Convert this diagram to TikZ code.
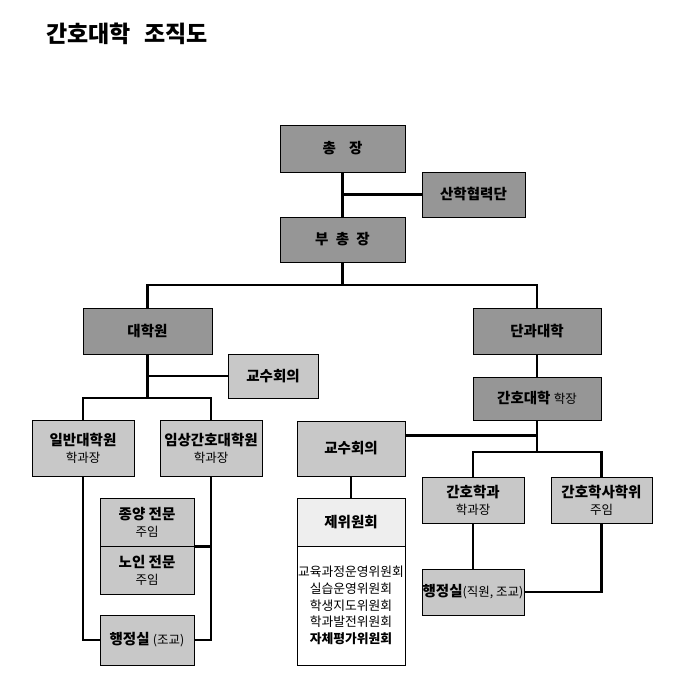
\documentclass[tikz,border=0pt]{standalone}
\usepackage{fontspec}
\setmainfont{Noto Sans CJK KR}
\usepackage{tikz}
\usetikzlibrary{calc,positioning}
\definecolor{darkbox}{HTML}{969696}
\definecolor{lightbox}{HTML}{C8C8C8}
\definecolor{headbox}{HTML}{EEEEEE}
\newcommand{\subt}[1]{{\fontsize{12.5}{15}\selectfont\mdseries #1}}

\begin{document}
\begin{tikzpicture}[x=1pt, y=-1pt,
    box/.style={draw, line width=0.8pt, inner sep=0pt, align=center,
        font=\fontsize{14.5}{17}\selectfont\bfseries},
    dark/.style={box, fill=darkbox},
    light/.style={box, fill=lightbox},
    link/.style={line width=2.4pt}]
    \useasboundingbox (0,0) rectangle (688,688);
    \node (title) at (127,34) {\fontsize{23}{26}\selectfont\bfseries 간호대학\hspace{0.6em}조직도};
    % top
    \node[dark, minimum width=125, minimum height=47] (chancellor) at (342.5,148.5) {총\hspace{0.9em}장};
    \node[dark, minimum width=103, minimum height=45] (sanhak) at (473.5,194.5) {산학협력단};
    \node[dark, minimum width=125, minimum height=45] (vice) at (342.5,239.5) {부\hspace{0.5em}총\hspace{0.5em}장};
    % graduate school
    \node[dark, minimum width=129, minimum height=46] (grad) at (147.5,331) {대학원};
    \node[light, minimum width=90, minimum height=44] (gradcouncil) at (273,376) {교수회의};
    \node[light, minimum width=102, minimum height=56] (general) at (83,448) {일반대학원\\\subt{학과장}};
    \node[light, minimum width=102, minimum height=56] (clinical) at (211,448) {임상간호대학원\\\subt{학과장}};
    \node[light, minimum width=94, minimum height=48] (oncology) at (147,522) {종양 전문\\\subt{주임}};
    \node[light, minimum width=94, minimum height=48] (geriatric) at (147,570) {노인 전문\\\subt{주임}};
    \node[light, minimum width=94, minimum height=50] (gradoffice) at (147,640) {행정실 \subt{(조교)}};
    % council and committees
    \node[light, minimum width=108, minimum height=55] (council) at (351,448.5) {교수회의};
    \node[box, fill=headbox, minimum width=108, minimum height=48] (committee) at (351,522) {제위원회};
    \node[draw, line width=0.8pt, minimum width=108, minimum height=119, inner sep=0pt,
        align=center, font=\fontsize{12.8}{16.7}\selectfont] (members) at (351,605.5)
        {교육과정운영위원회\\실습운영위원회\\학생지도위원회\\학과발전위원회\\\textbf{자체평가위원회}};
    % college
    \node[dark, minimum width=128, minimum height=46] (college) at (537,331) {단과대학};
    \node[dark, minimum width=128, minimum height=43] (dean) at (537,398.5) {간호대학 \subt{학장}};
    \node[light, minimum width=102, minimum height=46] (nursing) at (473,500) {간호학과\\\subt{학과장}};
    \node[light, minimum width=101, minimum height=46] (bsn) at (601.5,500) {간호학사학위\\\subt{주임}};
    \node[light, minimum width=102, minimum height=46] (office) at (473,592) {행정실\subt{(직원, 조교)}};

    \coordinate (split) at (342.5,285);
    \coordinate (gsplit) at (147.5,398);
    \coordinate (cjoin) at (537,435.5);
    \coordinate (dsplit) at (537,452);

    \draw[link] (chancellor) -- (vice);
    \draw[link] (chancellor.south |- sanhak.west) -- (sanhak.west);
    \draw[link] (vice) -- (split);
    \draw[link] (grad.north) |- (split) -| (college.north);
    \draw[link] (grad) -- (gsplit);
    \draw[link] (gradcouncil.west -| grad.south) -- (gradcouncil.west);
    \draw[link] (general.north) |- (gsplit) -| (clinical.north);
    \draw[link] (general.south) |- (gradoffice.west);
    \draw[link] (clinical.south) |- (gradoffice.east);
    \draw[link] (oncology.south east) -- (oncology.south east -| clinical.south);
    \draw[link] (council) -- (committee);
    \draw[link] (college) -- (dean);
    \draw[link] (dean) -- (dsplit);
    \draw[link] (council.east |- cjoin) -- (cjoin);
    \draw[link] (nursing.north) |- (dsplit) -| (bsn.north);
    \draw[link] (nursing) -- (office);
    \draw[link] (bsn.south) |- (office.east);
\end{tikzpicture}
\end{document}
